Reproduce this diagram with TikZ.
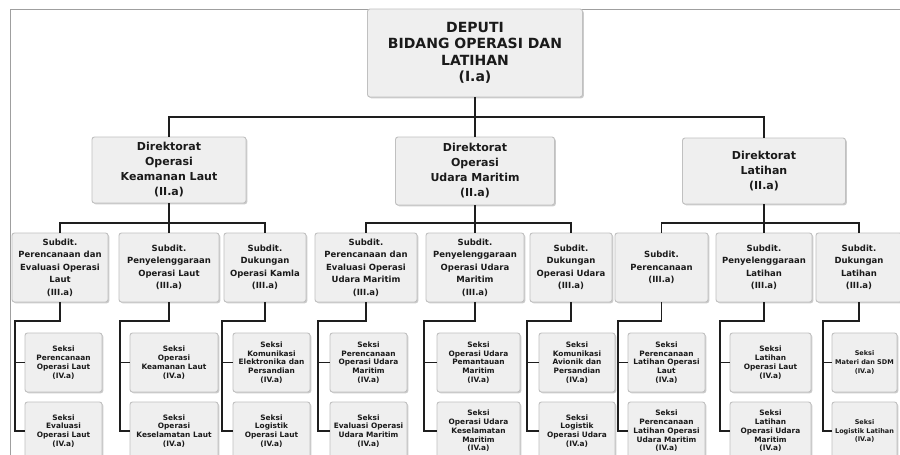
\documentclass[tikz,border=0pt]{standalone}
\usepackage{fontspec}
\setmainfont{DejaVu Sans}
\usetikzlibrary{shadows}
\definecolor{boxfill}{HTML}{EFEFEF}
\definecolor{boxline}{HTML}{C0C0C0}
\definecolor{txt}{HTML}{1A1A1A}
\definecolor{lines}{HTML}{1E1E1E}
\begin{document}
\begin{tikzpicture}[x=1pt,y=-1pt,
  box/.style={draw=boxline, line width=0.9pt, fill=boxfill, rounded corners=2.5pt,
    align=center, inner sep=1pt, text=txt,
    drop shadow={shadow xshift=1.3pt, shadow yshift=-1.3pt, opacity=0.4, fill=gray}},
  sz/.style n args={2}{minimum width=#1pt, minimum height=#2pt},
  topbox/.style={box, font=\fontsize{14}{16.5}\selectfont\bfseries},
  dirbox/.style={box, font=\fontsize{11}{15}\selectfont\bfseries},
  subbox/.style={box, font=\fontsize{8.5}{12.5}\selectfont\bfseries},
  seksbox/.style={box, font=\fontsize{7.4}{8.8}\selectfont\bfseries},
  seksnarrow/.style={box, font=\fontsize{6.5}{8.8}\selectfont\bfseries},
  conn/.style={draw=lines, line width=1.5pt},
  frame/.style={draw=gray!75, line width=0.8pt}
]
\useasboundingbox (0,0) rectangle (900,455);
\fill[white] (0,0) rectangle (900,455);
\draw[frame] (900,9) -- (10,9) -- (10,455);

% top
\node[topbox, sz={215}{88}] (top) at (475,53) {DEPUTI\\BIDANG OPERASI DAN\\LATIHAN\\(I.a)};

% directorates
\node[dirbox, sz={154}{66}] (d1) at (169,170) {Direktorat\\Operasi\\Keamanan Laut\\(II.a)};
\node[dirbox, sz={159}{68}] (d2) at (475,171) {Direktorat\\Operasi\\Udara Maritim\\(II.a)};
\node[dirbox, sz={163}{66}] (d3) at (764,171) {Direktorat\\Latihan\\(II.a)};

% subdits
\node[subbox, sz={96}{69}]  (s1) at (60,267.5)  {Subdit.\\Perencanaan dan\\Evaluasi Operasi\\Laut\\(III.a)};
\node[subbox, sz={100}{69}] (s2) at (169,267.5) {Subdit.\\Penyelenggaraan\\Operasi Laut\\(III.a)};
\node[subbox, sz={82}{69}]  (s3) at (265,267.5) {Subdit.\\Dukungan\\Operasi Kamla\\(III.a)};
\node[subbox, sz={102}{69}] (s4) at (366,267.5) {Subdit.\\Perencanaan dan\\Evaluasi Operasi\\Udara Maritim\\(III.a)};
\node[subbox, sz={98}{69}]  (s5) at (475,267.5) {Subdit.\\Penyelenggaraan\\Operasi Udara\\Maritim\\(III.a)};
\node[subbox, sz={82}{69}]  (s6) at (571,267.5) {Subdit.\\Dukungan\\Operasi Udara\\(III.a)};
\node[subbox, sz={93}{69}]  (s7) at (661.5,267.5) {Subdit.\\Perencanaan\\(III.a)};
\node[subbox, sz={96}{69}]  (s8) at (764,267.5) {Subdit.\\Penyelenggaraan\\Latihan\\(III.a)};
\node[subbox, sz={86}{69}]  (s9) at (859,267.5) {Subdit.\\Dukungan\\Latihan\\(III.a)};

% seksi (upper row)
\node[seksbox, sz={77}{59}] (a1) at (63.5,362.5)  {Seksi\\Perencanaan\\Operasi Laut\\(IV.a)};
\node[seksbox, sz={88}{59}] (a2) at (174,362.5)   {Seksi\\Operasi\\Keamanan Laut\\(IV.a)};
\node[seksbox, sz={77}{59}] (a3) at (271.5,362.5) {Seksi\\Komunikasi\\Elektronika dan\\Persandian\\(IV.a)};
\node[seksbox, sz={77}{59}] (a4) at (368.5,362.5) {Seksi\\Perencanaan\\Operasi Udara\\Maritim\\(IV.a)};
\node[seksbox, sz={83}{59}] (a5) at (478.5,362.5) {Seksi\\Operasi Udara\\Pemantauan\\Maritim\\(IV.a)};
\node[seksbox, sz={76}{59}] (a6) at (577,362.5)   {Seksi\\Komunikasi\\Avionik dan\\Persandian\\(IV.a)};
\node[seksbox, sz={77}{59}] (a7) at (666.5,362.5) {Seksi\\Perencanaan\\Latihan Operasi\\Laut\\(IV.a)};
\node[seksbox, sz={81}{59}] (a8) at (770.5,362.5) {Seksi\\Latihan\\Operasi Laut\\(IV.a)};
\node[seksnarrow, sz={65}{59}] (a9) at (864.5,362.5) {Seksi\\Materi dan SDM\\(IV.a)};

% seksi (lower row)
\node[seksbox, sz={77}{58}] (b1) at (63.5,431)  {Seksi\\Evaluasi\\Operasi Laut\\(IV.a)};
\node[seksbox, sz={88}{58}] (b2) at (174,431)   {Seksi\\Operasi\\Keselamatan Laut\\(IV.a)};
\node[seksbox, sz={77}{58}] (b3) at (271.5,431) {Seksi\\Logistik\\Operasi Laut\\(IV.a)};
\node[seksbox, sz={77}{58}] (b4) at (368.5,431) {Seksi\\Evaluasi Operasi\\Udara Maritim\\(IV.a)};
\node[seksbox, sz={83}{58}] (b5) at (478.5,431) {Seksi\\Operasi Udara\\Keselamatan\\Maritim\\(IV.a)};
\node[seksbox, sz={76}{58}] (b6) at (577,431)   {Seksi\\Logistik\\Operasi Udara\\(IV.a)};
\node[seksbox, sz={77}{58}] (b7) at (666.5,431) {Seksi\\Perencanaan\\Latihan Operasi\\Udara Maritim\\(IV.a)};
\node[seksbox, sz={81}{58}] (b8) at (770.5,431) {Seksi\\Latihan\\Operasi Udara\\Maritim\\(IV.a)};
\node[seksnarrow, sz={65}{58}] (b9) at (864.5,431) {Seksi\\Logistik Latihan\\(IV.a)};

% junctions
\coordinate (j0) at (475,117);
\coordinate (j1) at (169,223);
\coordinate (j2) at (475,223);
\coordinate (j3) at (764,223);
\coordinate (r1) at (15,321);
\coordinate (r2) at (120,321);
\coordinate (r3) at (222,321);
\coordinate (r4) at (318,321);
\coordinate (r5) at (424,321);
\coordinate (r6) at (527,321);
\coordinate (r7) at (618,321);
\coordinate (r8) at (720,321);
\coordinate (r9) at (823,321);

% connectors
\draw[conn] (top) -- (j0);
\draw[conn] (d1.north) |- (j0) -| (d3.north);
\draw[conn] (j0) -- (d2.north);

\draw[conn] (d1) -- (j1);
\draw[conn] (s1.north) |- (j1) -| (s3.north);
\draw[conn] (j1) -- (s2.north);

\draw[conn] (d2) -- (j2);
\draw[conn] (s4.north) |- (j2) -| (s6.north);
\draw[conn] (j2) -- (s5.north);

\draw[conn] (d3) -- (j3);
\draw[conn] (s7.north) |- (j3) -| (s9.north);
\draw[conn] (j3) -- (s8.north);

\foreach \i in {1,...,9}{
  \draw[conn] (s\i.south) |- (r\i) |- (b\i.west);
  \draw[conn] (a\i.west) -| (r\i);
}
\end{tikzpicture}
\end{document}
